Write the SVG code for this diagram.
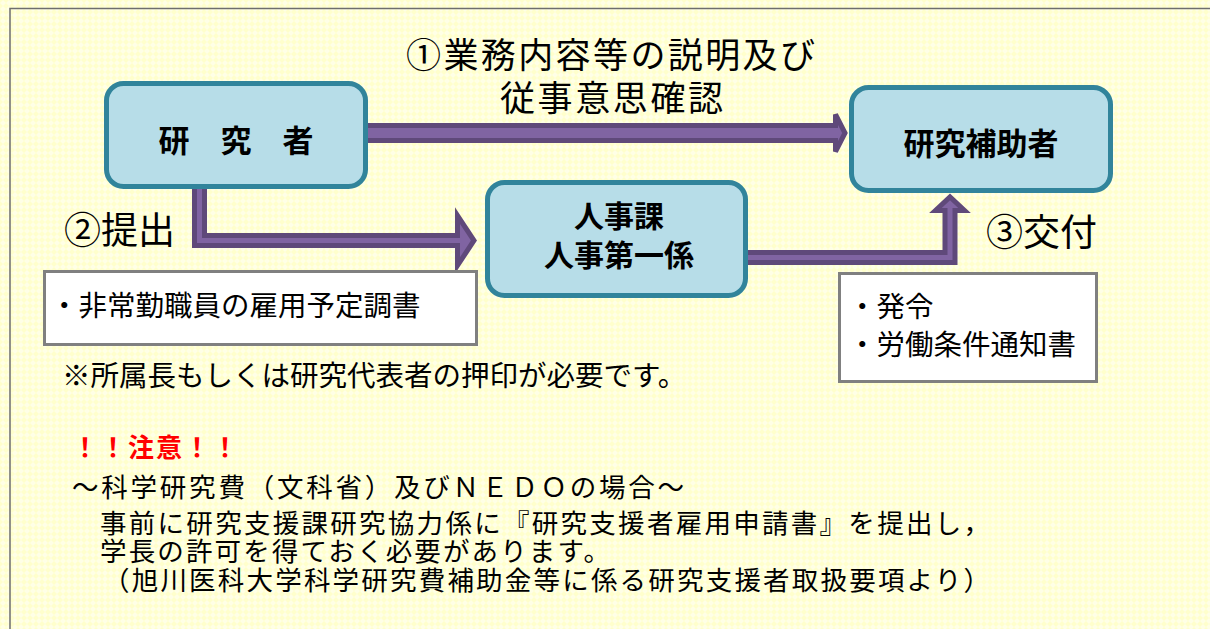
<svg xmlns="http://www.w3.org/2000/svg" width="1210" height="629" viewBox="0 0 1210 629">
<defs>
<pattern id="bgpat" width="6" height="6" patternUnits="userSpaceOnUse">
<rect width="6" height="6" fill="#FFFFCC"/>
<path d="M3 0 L6 3 L3 6 L0 3 Z" fill="#FFFFE6"/>
</pattern>
<style>
.t{font-family:"Noto Sans CJK JP","Noto Sans CJK SC",sans-serif;fill:#000}
.b{font-weight:bold}
.red{fill:#FF0000}
.node{fill:#B7DDE8;stroke:#31849B;stroke-width:5}
.box{fill:#FFFFFF;stroke:#808080;stroke-width:3}
.arr{fill:#8064A2;stroke:#5F497A;stroke-width:5;stroke-linejoin:miter}
</style>
</defs>
<rect width="1210" height="629" fill="url(#bgpat)"/>
<rect x="10" y="8.5" width="1300" height="700" fill="none" stroke="#6E6E6E" stroke-width="1.5"/>
<g id="connectors">
<path class="arr" d="M360 125.5 L835.5 125.5 L835.5 114.5 L845 133 L835.5 151.5 L835.5 140.5 L360 140.5 Z"/>
<path class="arr" d="M194.5 185 L204.5 185 L204.5 235.5 L457.5 235.5 L457.5 215.5 L474 240.5 L457.5 265.5 L457.5 245.5 L194.5 245.5 Z"/>
<path class="arr" d="M745 252.5 L945 252.5 L945 210.5 L935.5 210.5 L950 197 L964.5 210.5 L955 210.5 L955 262.5 L745 262.5 Z"/>
</g>
<g id="node-researcher">
<rect class="node" x="106.5" y="83.5" width="259" height="103" rx="17"/>
<text class="t b" x="236" y="152" font-size="31" text-anchor="middle">研　究　者</text>
</g>
<g id="node-assistant">
<rect class="node" x="851.5" y="87.5" width="259" height="103" rx="17"/>
<text class="t b" x="981" y="155" font-size="31" text-anchor="middle">研究補助者</text>
</g>
<g id="node-hr">
<rect class="node" x="487.5" y="182.5" width="258" height="113" rx="17"/>
<text class="t b" x="619" y="227" font-size="30" text-anchor="middle">人事課</text>
<text class="t b" x="619" y="266" font-size="30" text-anchor="middle">人事第一係</text>
</g>
<g id="label-1">
<text class="t" x="406" y="68" font-size="35" textLength="409" lengthAdjust="spacing">①業務内容等の説明及び</text>
<text class="t" x="500" y="111" font-size="35" textLength="223" lengthAdjust="spacing">従事意思確認</text>
</g>
<g id="label-2">
<text class="t" x="64" y="244" font-size="37">②提出</text>
</g>
<g id="label-3">
<text class="t" x="986" y="246" font-size="37">③交付</text>
</g>
<g id="box-doc1">
<rect class="box" x="44.5" y="271.5" width="432" height="73"/>
<text class="t" x="50" y="316" font-size="28.5">・非常勤職員の雇用予定調書</text>
</g>
<g id="box-doc2">
<rect class="box" x="839.5" y="273.5" width="257" height="108"/>
<text class="t" x="848" y="317" font-size="28.5">・発令</text>
<text class="t" x="848" y="355" font-size="28.5">・労働条件通知書</text>
</g>
<g id="notes">
<text class="t" x="62" y="386" font-size="28.5">※所属長もしくは研究代表者の押印が必要です。</text>
<text class="t b red" x="72" y="457" font-size="26" textLength="166" lengthAdjust="spacing">！！注意！！</text>
<text class="t" x="72" y="497" font-size="26.5" textLength="612" lengthAdjust="spacing">～科学研究費（文科省）及びＮＥＤＯの場合～</text>
<text class="t" x="100" y="533" font-size="26.5" textLength="890" lengthAdjust="spacing">事前に研究支援課研究協力係に『研究支援者雇用申請書』を提出し，</text>
<text class="t" x="100" y="561" font-size="26.5" textLength="510" lengthAdjust="spacing">学長の許可を得ておく必要があります。</text>
<text class="t" x="103" y="590" font-size="26.5" textLength="887" lengthAdjust="spacing">（旭川医科大学科学研究費補助金等に係る研究支援者取扱要項より）</text>
</g>
</svg>
